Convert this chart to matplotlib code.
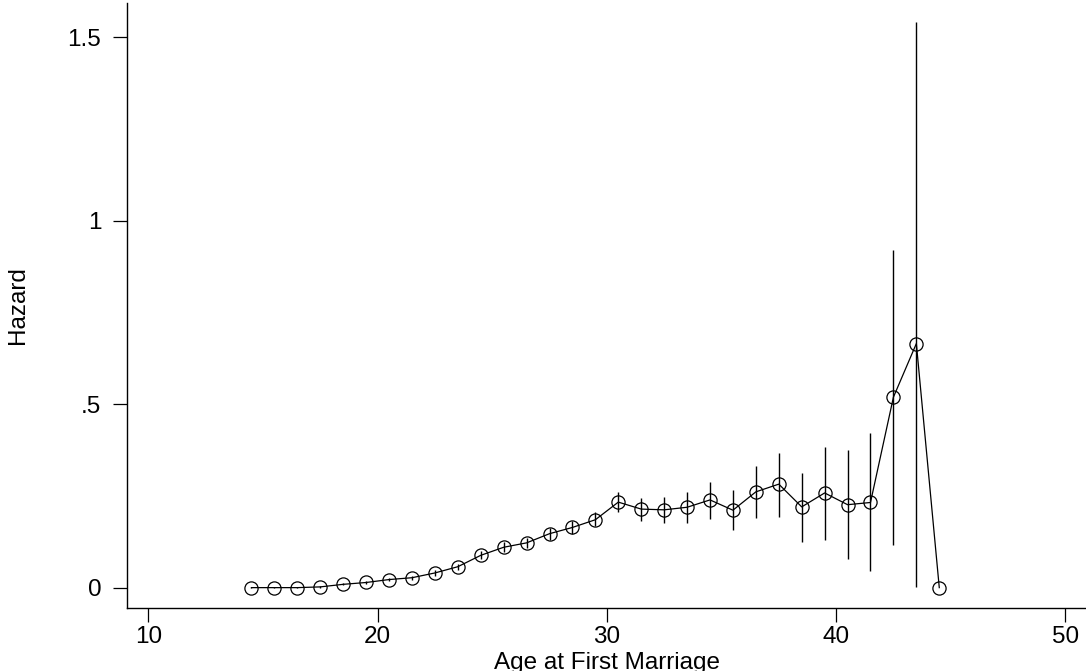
import matplotlib
matplotlib.use("Agg")
import matplotlib.pyplot as plt
import numpy as np

age = [14.5, 15.5, 16.5, 17.5, 18.5, 19.5, 20.5, 21.5, 22.5, 23.5, 24.5,
       25.5, 26.5, 27.5, 28.5, 29.5, 30.5, 31.5, 32.5, 33.5, 34.5, 35.5,
       36.5, 37.5, 38.5, 39.5, 40.5, 41.5, 42.5, 43.5, 44.5]
hazard = [0.001, 0.001, 0.001, 0.003, 0.010, 0.015, 0.023, 0.028, 0.041, 0.058, 0.089,
          0.111, 0.123, 0.148, 0.165, 0.186, 0.234, 0.215, 0.213, 0.220, 0.240, 0.212,
          0.262, 0.283, 0.221, 0.259, 0.227, 0.233, 0.520, 0.666, 0.001]
lower = [0.000, 0.000, 0.000, 0.001, 0.007, 0.011, 0.018, 0.022, 0.034, 0.050, 0.078,
         0.098, 0.109, 0.132, 0.147, 0.168, 0.206, 0.183, 0.178, 0.176, 0.189, 0.157,
         0.192, 0.194, 0.125, 0.132, 0.080, 0.047, 0.118, 0.002, 0.001]
upper = [0.002, 0.002, 0.002, 0.005, 0.013, 0.019, 0.028, 0.034, 0.048, 0.066, 0.100,
         0.124, 0.137, 0.164, 0.183, 0.206, 0.262, 0.245, 0.249, 0.261, 0.289, 0.267,
         0.332, 0.369, 0.313, 0.383, 0.376, 0.422, 0.921, 1.542, 0.001]
xticks = [10, 20, 30, 40, 50]
yticks = [0, 0.5, 1, 1.5]
ytick_labels = ["0", ".5", "1", "1.5"]

plt.rcParams['font.family'] = ['Liberation Sans', 'DejaVu Sans']

fig = plt.figure(figsize=(10.86, 6.71), dpi=100)
ax = fig.add_axes([127/1086, 63/671, (1086-127)/1086, (608-3)/671])

ax.vlines(age, lower, upper, colors='black', linewidth=1.0)
ax.plot(age, hazard, color='black', linewidth=0.9, marker='o', markersize=9.5,
        markerfacecolor='none', markeredgecolor='black', markeredgewidth=0.9)

ax.set_xlim(9.07, 50.9)
ax.set_ylim(-0.0545, 1.594)
ax.spines['top'].set_visible(False)
ax.spines['right'].set_visible(False)
for s in ['left', 'bottom']:
    ax.spines[s].set_linewidth(1.0)
ax.set_xticks(xticks)
ax.set_yticks(yticks)
ax.set_yticklabels(ytick_labels)
ax.tick_params(axis='both', direction='out', length=10, width=0.9,
               labelsize=17.5, colors='black')
ax.tick_params(axis='x', pad=3)
ax.tick_params(axis='y', pad=8.5)
ax.set_xlabel("Age at First Marriage", fontsize=17.5, labelpad=3)
ax.set_ylabel("Hazard", fontsize=17.5, labelpad=28)

fig.savefig("out.png", dpi=100)
